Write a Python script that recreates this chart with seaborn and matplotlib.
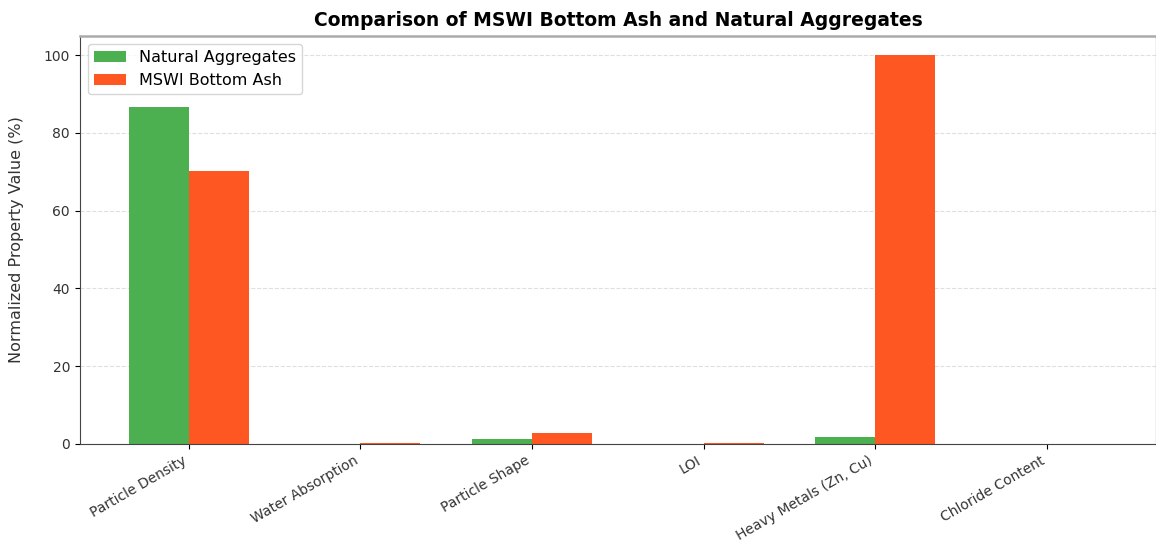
import pandas as pd
import matplotlib
matplotlib.use('Agg')
import matplotlib.pyplot as plt
import seaborn as sns

properties = ['Particle Density', 'Water Absorption', 'Particle Shape', 'LOI',
              'Heavy Metals (Zn, Cu)', 'Chloride Content']
natural_aggregates = [86.7, 0.05, 1.3, 0.02, 1.8, 0.01]
mswi_bottom_ash = [70.2, 0.3, 2.8, 0.1, 100.0, 0.05]
materials = ['Natural Aggregates', 'MSWI Bottom Ash']
palette = {'Natural Aggregates': '#4CAF50', 'MSWI Bottom Ash': '#FF5722'}

rows = []
for name, values in zip(materials, [natural_aggregates, mswi_bottom_ash]):
    for prop, val in zip(properties, values):
        rows.append({'property': prop, 'material': name, 'value': val})
df = pd.DataFrame(rows)

fig = plt.figure(figsize=(11.56, 5.5), dpi=100)
ax = fig.add_axes([0.069, 0.193, 0.931, 0.742])

sns.barplot(
    data=df, x='property', y='value', hue='material',
    palette=palette, width=0.7, saturation=1, ax=ax
)

ax.set_xlim(-0.635, 5.635)
ax.set_ylim(0, 105)
ax.set_xlabel('')
ax.set_ylabel('Normalized Property Value (%)', fontsize=11.5, color='#333333',
              labelpad=14)
ax.set_title('Comparison of MSWI Bottom Ash and Natural Aggregates',
             fontsize=13.5, fontweight='bold', pad=7)
ax.yaxis.grid(True, linestyle='--', alpha=0.4)
ax.set_axisbelow(True)
ax.tick_params(axis='both', labelsize=10, labelcolor='#333333')
plt.setp(ax.get_xticklabels(), rotation=30, ha='right')
ax.spines['top'].set_color('#aaaaaa')
ax.spines['top'].set_linewidth(1.8)
ax.spines['left'].set_color('#444444')
ax.spines['bottom'].set_color('#444444')

leg = ax.legend(loc='upper left', fontsize=11.5)
leg.set_title(None)

fig.savefig('out.png', dpi=100)
